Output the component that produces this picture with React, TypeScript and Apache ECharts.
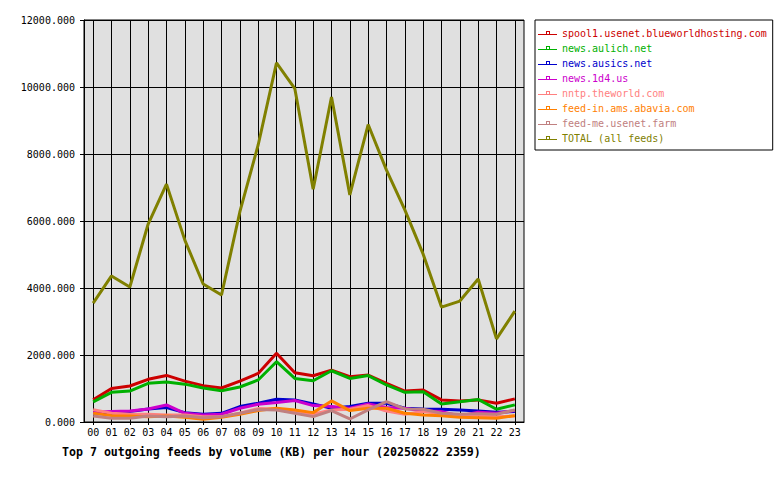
import React, { useEffect, useRef } from "react";
import * as echarts from "echarts";

const hours = ["00","01","02","03","04","05","06","07","08","09","10","11","12","13","14","15","16","17","18","19","20","21","22","23"];

const spool1 = [660, 1000, 1075, 1275, 1390, 1220, 1085, 1015, 1220, 1450, 2050, 1470, 1380, 1550, 1350, 1400, 1155, 925, 955, 660, 630, 660, 560, 690];
const aulich = [600, 885, 925, 1155, 1195, 1130, 1015, 935, 1045, 1255, 1800, 1300, 1230, 1530, 1300, 1385, 1105, 885, 905, 540, 605, 675, 380, 510];
const ausics = [250, 260, 310, 390, 430, 280, 230, 260, 460, 560, 680, 660, 540, 410, 460, 560, 560, 410, 390, 380, 360, 330, 290, 310];
const d4 = [290, 310, 330, 390, 510, 260, 210, 230, 410, 530, 580, 640, 490, 460, 410, 540, 430, 410, 330, 310, 180, 290, 260, 340];
const theworld = [370, 260, 230, 230, 210, 210, 160, 160, 260, 400, 390, 330, 230, 360, 380, 490, 330, 230, 310, 250, 210, 200, 160, 180];
const abavia = [258, 190, 180, 160, 180, 140, 80, 140, 230, 340, 410, 360, 280, 630, 340, 410, 410, 260, 210, 190, 140, 130, 110, 190];
const usenetFarm = [180, 110, 110, 180, 160, 180, 130, 160, 260, 370, 360, 260, 160, 340, 90, 360, 610, 390, 380, 260, 230, 250, 230, 360];
const total = [3550, 4360, 4030, 5910, 7100, 5430, 4120, 3790, 6270, 8270, 10720, 9950, 6950, 9700, 6780, 8880, 7520, 6330, 5010, 3430, 3610, 4270, 2480, 3310];

const seriesNames = [
  "spool1.usenet.blueworldhosting.com",
  "news.aulich.net",
  "news.ausics.net",
  "news.1d4.us",
  "nntp.theworld.com",
  "feed-in.ams.abavia.com",
  "feed-me.usenet.farm",
  "TOTAL (all feeds)",
];
const seriesData = [spool1, aulich, ausics, d4, theworld, abavia, usenetFarm, total];
const colors = ["#cc0000", "#00b000", "#0000cc", "#cc00cc", "#ff8080", "#ff8000", "#c08080", "#808000"];

const FONT = "DejaVu Sans Mono";
const ICON = "path://M0,4H19V5H0Z M8,1H12V5H8Z M9,2V4H11V2Z";

export default function App() {
  const ref = useRef<HTMLDivElement>(null);
  useEffect(() => {
    document.body.style.margin = "0";
    const chart = echarts.init(ref.current!, null, { renderer: "svg" });
    const half = 440 / 24 / 2;
    chart.setOption({
      animation: false,
      backgroundColor: "#ffffff",
      title: {
        text: "Top 7 outgoing feeds by volume (KB) per hour (20250822 2359)",
        left: 57,
        top: 441,
        textStyle: { fontFamily: FONT, fontSize: 11.6, fontWeight: "bold", color: "#000" },
      },
      legend: {
        orient: "vertical",
        left: 535,
        top: 20,
        padding: [7, 6, 6, 3],
        borderColor: "#000",
        borderWidth: 1,
        itemWidth: 19,
        itemHeight: 5,
        itemGap: 3,
        icon: ICON,
        data: seriesNames.map((n, i) => ({
          name: n,
          icon: ICON,
          itemStyle: { color: colors[i] },
          textStyle: { color: colors[i], fontFamily: FONT, fontSize: 10, lineHeight: 12 },
        })),
        textStyle: { fontFamily: FONT, fontSize: 10, lineHeight: 12 },
        selectedMode: false,
      },
      grid: [
        {
          left: 84,
          top: 20,
          width: 440,
          height: 402,
          show: true,
          backgroundColor: "#e0e0e0",
          borderColor: "#000",
          borderWidth: 1,
        },
        {
          left: 84 + half,
          top: 20,
          width: 440 - 2 * half,
          height: 402,
          show: false,
        },
      ],
      xAxis: [
        {
          type: "category",
          gridIndex: 0,
          data: hours,
          boundaryGap: true,
          axisLine: { show: true, lineStyle: { color: "#000", width: 1 } },
          axisTick: { show: true, alignWithLabel: true, length: 3, lineStyle: { color: "#000" } },
          axisLabel: { color: "#000", fontFamily: FONT, fontSize: 10, margin: 5, interval: 0 },
          splitLine: { show: false },
        },
        {
          type: "value",
          gridIndex: 1,
          min: 0,
          max: 23,
          interval: 1,
          axisLine: { show: false },
          axisTick: { show: false },
          axisLabel: { show: false },
          splitLine: { show: true, lineStyle: { color: "#000", width: 1 } },
        },
      ],
      yAxis: [
        {
          type: "value",
          gridIndex: 0,
          min: 0,
          max: 12000,
          interval: 2000,
          axisLine: { show: true, lineStyle: { color: "#000", width: 1 } },
          axisTick: { show: true, length: 4, lineStyle: { color: "#000" } },
          axisLabel: {
            color: "#000",
            fontFamily: FONT,
            fontSize: 10,
            margin: 9,
            formatter: (v: number) => v.toFixed(3),
          },
          splitLine: { show: true, lineStyle: { color: "#000", width: 1 } },
        },
        {
          type: "value",
          gridIndex: 1,
          min: 0,
          max: 12000,
          show: false,
          splitLine: { show: false },
        },
      ],
      series: seriesNames.map((n, i) => ({
        name: n,
        type: "line",
        xAxisIndex: 0,
        yAxisIndex: 0,
        data: seriesData[i],
        symbol: "none",
        showSymbol: false,
        color: colors[i],
        lineStyle: { color: colors[i], width: 3 },
        itemStyle: { color: colors[i] },
      })),
    });
    return () => chart.dispose();
  }, []);
  return <div ref={ref} style={{ width: 780, height: 480 }} />;
}
